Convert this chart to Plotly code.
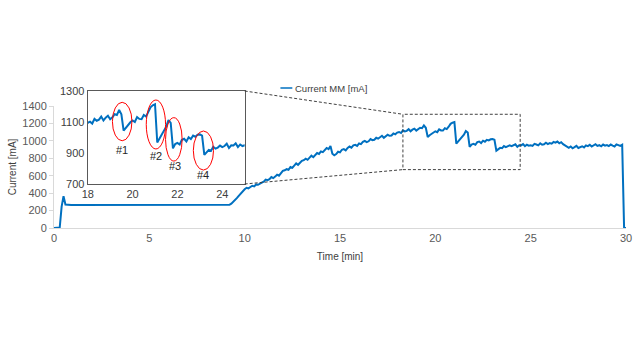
import numpy as np
import plotly.graph_objects as go

# ---------------- data ----------------
time_min = np.round(np.arange(0, 30.05, 0.1), 1)

current_ma = [
    0, 0, 0, 5, 245, 365, 270, 266, 265, 265,
    265, 265, 265, 265, 265, 265, 265, 265, 265, 265,
    265, 265, 265, 265, 265, 265, 265, 265, 265, 265,
    265, 265, 265, 265, 265, 265, 265, 265, 265, 265,
    265, 265, 265, 265, 265, 265, 265, 265, 265, 265,
    265, 265, 265, 265, 265, 265, 265, 265, 265, 265,
    265, 265, 265, 265, 265, 265, 265, 265, 265, 265,
    265, 265, 265, 265, 265, 265, 265, 265, 265, 265,
    265, 265, 265, 265, 265, 265, 265, 265, 265, 265,
    265, 265, 266, 280, 300, 322, 345, 372, 400, 428,
    445, 462, 455, 470, 485, 478, 500, 496, 512, 520,
    532, 555, 548, 560, 585, 572, 590, 612, 600, 628,
    655, 662, 675, 668, 700, 690, 718, 742, 725, 748,
    770, 778, 795, 782, 808, 830, 812, 842, 860, 850,
    878, 870, 895, 918, 905, 942, 852, 835, 848, 875,
    868, 898, 905, 890, 918, 935, 922, 948, 955, 942,
    970, 962, 988, 1000, 985, 995, 1020, 1008, 1012, 1035,
    1025, 1040, 1058, 1035, 1050, 1070, 1058, 1062, 1085, 1075,
    1095, 1102, 1090, 1120, 1108, 1115, 1135, 1110, 1128, 1140,
    1118, 1130, 1150, 1145, 1178, 1150, 1045, 1065, 1080, 1098,
    1110, 1100, 1132, 1120, 1118, 1145, 1135, 1162, 1195, 1208,
    1215, 968, 992, 1015, 1045, 1070, 1112, 1095, 930, 958,
    965, 955, 985, 992, 975, 1002, 990, 1012, 1005, 1018,
    1020, 1012, 888, 908, 920, 915, 940, 928, 935, 948,
    938, 945, 960, 932, 950, 948, 962, 938, 955, 945,
    950, 942, 965, 958, 948, 972, 955, 960, 978, 962,
    975, 968, 988, 980, 992, 972, 985, 962, 948, 940,
    920, 935, 915, 928, 942, 918, 930, 938, 925, 948,
    940, 955, 935, 948, 962, 942, 950, 938, 958, 945,
    952, 940, 958, 945, 935, 960, 948, 942, 955, 0,
    0,
]

series_name = "Current MM [mA]"
x_title = "Time [min]"
y_title = "Current [mA]"

main_x_ticks = [0, 5, 10, 15, 20, 25, 30]
main_y_ticks = [0, 200, 400, 600, 800, 1000, 1200, 1400]
inset_x_ticks = [18, 20, 22, 24]
inset_y_ticks = [700, 900, 1100, 1300]

# zoom window drawn on main chart (data units)
zoom_t = [18.3, 24.45]
zoom_i = [670, 1305]

# event ellipses in the inset (t0, t1, i0, i1) and labels
event_labels = ["#1", "#2", "#3", "#4"]
event_t0 = [19.10, 20.61, 21.47, 22.71]
event_t1 = [19.97, 21.47, 22.21, 23.61]
event_i0 = [979, 926, 848, 790]
event_i1 = [1227, 1242, 1128, 1042]
label_t = [19.54, 21.05, 21.87, 23.16]
label_i = [919, 881, 816, 758]

# ---------------- layout geometry ----------------
W, H = 644, 350
ML, MR, MT, MB = 54, 14, 80, 122
plot_h = H - MT - MB
main_top_frac = 122 / plot_h

main_x_range = [0, 30]
main_y_range = [0, 1400]
inset_x_dom = [(88 - ML) / (W - ML - MR), (246 - ML) / (W - ML - MR)]
inset_y_dom = [(H - MB - 184) / plot_h, (H - MB - 91) / plot_h]

BLUE = "#0070C0"
FONT = "Liberation Sans"
GREY_TXT = "#595959"

fig = go.Figure()
fig.add_trace(go.Scatter(x=time_min, y=current_ma, mode="lines", name=series_name,
                         line=dict(color=BLUE, width=2), showlegend=False,
                         xaxis="x", yaxis="y"))
fig.add_trace(go.Scatter(x=time_min, y=current_ma, mode="lines", name=series_name,
                         line=dict(color=BLUE, width=2), showlegend=False,
                         xaxis="x2", yaxis="y2"))

fig.update_layout(
    width=W, height=H,
    margin=dict(l=ML, r=MR, t=MT, b=MB, pad=0),
    paper_bgcolor="white", plot_bgcolor="rgba(0,0,0,0)",
    font=dict(family=FONT, size=11, color=GREY_TXT),
    xaxis=dict(domain=[0, 1], range=main_x_range, tickvals=main_x_ticks,
               showgrid=False, zeroline=False, showline=True, linecolor="#D9D9D9",
               linewidth=1, ticks="", tickfont=dict(size=11, color=GREY_TXT),
               title=dict(text=x_title, font=dict(size=10, color="#404040"), standoff=9),
               anchor="y"),
    yaxis=dict(domain=[0, main_top_frac], range=main_y_range, tickvals=main_y_ticks,
               showgrid=False, zeroline=False, showline=True, linecolor="#D9D9D9",
               ticks="outside", ticklen=4, tickcolor="#D9D9D9",
               tickfont=dict(size=11, color=GREY_TXT),
               title=dict(text=y_title, font=dict(size=10, color="#404040"), standoff=3),
               anchor="x"),
    xaxis2=dict(domain=inset_x_dom, range=[18, 25], tickvals=inset_x_ticks,
                showgrid=False, zeroline=False, showline=True, mirror=True,
                linecolor="#595959", linewidth=1.3, ticks="",
                tickfont=dict(size=11, color="#404040"), anchor="y2"),
    yaxis2=dict(domain=inset_y_dom, range=[700, 1300], tickvals=inset_y_ticks,
                showgrid=False, zeroline=False, showline=True, mirror=True,
                linecolor="#595959", linewidth=1.3, ticks="",
                tickfont=dict(size=11, color="#404040"), anchor="x2"),
)


def to_paper(t, v):
    px = (t - main_x_range[0]) / (main_x_range[1] - main_x_range[0])
    py = (v - main_y_range[0]) / (main_y_range[1] - main_y_range[0]) * main_top_frac
    return px, py


shapes = []
dash = dict(color="#404040", width=1, dash="3px,2px")
shapes.append(dict(type="rect", xref="x", yref="y", x0=zoom_t[0], x1=zoom_t[1],
                   y0=zoom_i[0], y1=zoom_i[1], line=dash, layer="above"))
tl = to_paper(zoom_t[0], zoom_i[1])
bl = to_paper(zoom_t[0], zoom_i[0])
shapes.append(dict(type="line", xref="paper", yref="paper", x0=inset_x_dom[1], y0=inset_y_dom[1],
                   x1=tl[0], y1=tl[1], line=dash))
shapes.append(dict(type="line", xref="paper", yref="paper", x0=inset_x_dom[1], y0=inset_y_dom[0],
                   x1=bl[0], y1=bl[1], line=dash))
for t0, t1, i0, i1 in zip(event_t0, event_t1, event_i0, event_i1):
    shapes.append(dict(type="circle", xref="x2", yref="y2", x0=t0, x1=t1, y0=i0, y1=i1,
                       line=dict(color="#FF0000", width=1), layer="above"))

# legend (line sample + text)
leg_y = (H - MB - 88) / plot_h
leg_x0 = (282 - ML) / (W - ML - MR)
leg_x1 = (294 - ML) / (W - ML - MR)
shapes.append(dict(type="line", xref="paper", yref="paper", x0=leg_x0, x1=leg_x1,
                   y0=leg_y, y1=leg_y, line=dict(color=BLUE, width=1.5)))
fig.update_layout(shapes=shapes)

annotations = [dict(xref="paper", yref="paper", x=leg_x1, y=leg_y, text=series_name,
                    showarrow=False, xanchor="left", yanchor="middle", xshift=1,
                    font=dict(size=9.5, color="#404040"))]
for lab, lt, li in zip(event_labels, label_t, label_i):
    annotations.append(dict(xref="x2", yref="y2", x=lt, y=li, text=lab, showarrow=False,
                            font=dict(size=11, color="#262626")))
fig.update_layout(annotations=annotations)

fig.write_html("out.html")
